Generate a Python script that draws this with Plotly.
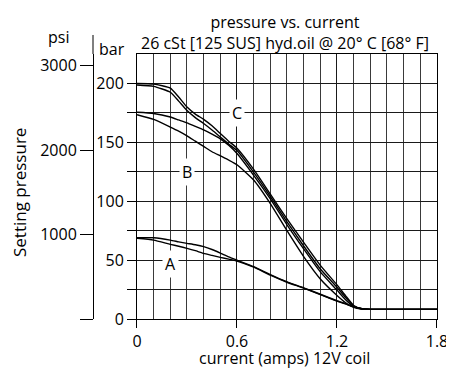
import plotly.graph_objects as go

current = [0, 0.1, 0.2, 0.25, 0.3, 0.35, 0.4, 0.45, 0.5, 0.55, 0.6, 0.7, 0.8, 0.9,
           1.0, 1.1, 1.2, 1.25, 1.3, 1.35, 1.4, 1.5, 1.6, 1.7, 1.8]

pressure_C_up = [200, 199.5, 196, 188.5, 180, 174, 169.5, 164, 157.5, 151, 145, 127, 106, 85,
                 65, 45.5, 29, 20, 11.5, 8.7, 8.2, 8.2, 8.2, 8.2, 8.2]
pressure_C_lo = [198.7, 197.5, 192.5, 185, 177, 171, 166, 160.5, 154.5, 148.5, 143, 124.5, 104, 82.5,
                 62, 42.5, 27, 18.5, 11, 8.6, 8.2, 8.2, 8.2, 8.2, 8.2]
pressure_B_up = [175.5, 174.5, 171.5, 169, 166.5, 163.5, 160.5, 157, 153, 147.5, 140.5, 122, 102, 80,
                 59.5, 40, 24.5, 16.5, 10.5, 8.5, 8.2, 8.2, 8.2, 8.2, 8.2]
pressure_B_lo = [173.5, 169.5, 163, 159.5, 155.5, 151, 146.5, 142, 138.5, 135, 131, 118, 98, 75,
                 53, 34, 20, 14, 9.8, 8.4, 8.2, 8.2, 8.2, 8.2, 8.2]
pressure_A_up = [69, 69, 67, 65.5, 64.2, 63, 61.4, 59, 56, 52.8, 50, 44.4, 37.6, 31.5,
                 26.5, 21, 15.5, 13, 10.5, 8.8, 8.2, 8.2, 8.2, 8.2, 8.2]
pressure_A_lo = [68.5, 67, 63.4, 61.8, 60, 58, 55.7, 54, 52.3, 50.8, 49.2, 44, 37.2, 31.2,
                 26.2, 20.7, 15.2, 12.8, 10.3, 8.7, 8.2, 8.2, 8.2, 8.2, 8.2]

x_tickvals = [0, 0.6, 1.2, 1.8]
x_ticktext = ["0", "0.6", "1.2", "1.8"]
bar_tickvals = [0, 25, 50, 75, 100, 125, 150, 175, 200]
bar_ticktext = ["0", "", "50", "", "100", "", "150", "", "200"]
psi_tickvals = [0, 1000, 2000, 3000]
psi_ticktext = ["", "1000", "2000", "3000"]

curve_labels = ["C", "B", "A"]
label_x = [0.6, 0.3, 0.2]
label_y = [175, 125, 47]

FONT = "Open Sans"
FS = 16
fig = go.Figure()
for ys in [pressure_C_up, pressure_C_lo, pressure_B_up, pressure_B_lo, pressure_A_up, pressure_A_lo]:
    fig.add_trace(go.Scatter(x=current, y=ys, mode="lines",
                             line=dict(color="black", width=1.4, shape="spline", smoothing=0.5),
                             hoverinfo="skip"))
# invisible trace for psi axis
fig.add_trace(go.Scatter(x=[None], y=[None], yaxis="y2", showlegend=False))

for t, xx, yy in zip(curve_labels, label_x, label_y):
    fig.add_annotation(x=xx, y=yy, text=t, showarrow=False, bgcolor="white",
                       borderpad=2, font=dict(size=FS, color="black", family=FONT))

def note(x, y, text, angle=0, size=FS, yanchor="middle"):
    fig.add_annotation(xref="paper", yref="paper", x=x, y=y, text=text, textangle=angle,
                       xanchor="center", yanchor=yanchor,
                       showarrow=False, font=dict(size=size, color="black", family=FONT))

note(0.558, 1.17, "pressure vs. current<br>26 cSt [125 SUS] hyd.oil @ 20° C [68° F]",
     yanchor="top")
note(-0.1017, 1.064, "psi")
note(0.0552, 1.019, "bar")
note(-0.2122, 0.4755, "Setting pressure", -90, 17)
note(0.558, -0.147, "current (amps) 12V coil")

# upward extension of the psi axis line above the plot frame
fig.add_shape(type="line", xref="paper", yref="paper", x0=0, x1=0, y0=1, y1=1.0717,
              line=dict(color="black", width=1))

gridc = "#1a1a1a"
fig.update_layout(
    width=446, height=361,
    margin=dict(l=85, r=17, t=46, b=50, autoexpand=False),
    plot_bgcolor="white", paper_bgcolor="white",
    showlegend=False,
    font=dict(family=FONT, size=FS, color="black"),
    xaxis=dict(range=[0, 1.8], domain=[0.1279, 1], tickvals=x_tickvals, ticktext=x_ticktext,
               ticks="outside", ticklen=8, tickcolor="black", tickwidth=1, automargin=False,
               showgrid=True, gridcolor=gridc, gridwidth=1,
               minor=dict(dtick=0.1, showgrid=True, gridcolor="#3a3a3a", gridwidth=1, ticks=""),
               showline=True, linecolor="black", linewidth=1, mirror=True, zeroline=False,
               tickfont=dict(size=FS, family=FONT)),
    yaxis=dict(range=[0, 225], domain=[0, 1], tickvals=bar_tickvals, ticktext=bar_ticktext,
               ticks="outside", ticklen=9, tickcolor="black", tickwidth=1, automargin=False,
               showgrid=True, gridcolor=gridc, gridwidth=1,
               showline=True, linecolor="black", linewidth=1, mirror=True, zeroline=False,
               tickfont=dict(size=FS, family=FONT)),
    yaxis2=dict(range=[0, 3140], overlaying="y", anchor="free", position=0,
                side="left", tickvals=psi_tickvals, ticktext=psi_ticktext, automargin=False,
                ticks="outside", ticklen=13, tickcolor="black", tickwidth=1,
                showgrid=False, zeroline=False,
                showline=True, linecolor="black", linewidth=1,
                tickfont=dict(size=FS, family=FONT)),
)
fig.write_html("out.html")
